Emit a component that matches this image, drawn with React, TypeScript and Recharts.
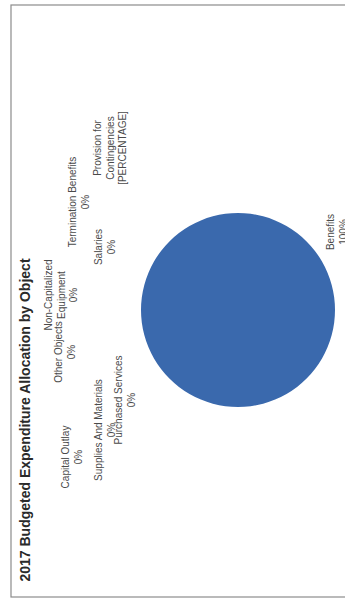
import React from "react";
import { PieChart, Pie, Cell } from "recharts";

// ---- data ----
const categories = [
  "Salaries",
  "Benefits",
  "Purchased Services",
  "Supplies And Materials",
  "Capital Outlay",
  "Other Objects",
  "Non-Capitalized Equipment",
  "Termination Benefits",
  "Provision for Contingencies",
];
const values = [0, 100, 0, 0, 0, 0, 0, 0, 0];
const valueLabels = ["0%", "100%", "0%", "0%", "0%", "0%", "0%", "0%", "[PERCENTAGE]"];
const titleText = "2017 Budgeted Expenditure Allocation by Object";

// ---- layout (chart frame before rotation) ----
const FRAME_W = 602;
const FRAME_H = 345;
const categoryLines: string[][] = [
  ["Salaries"],
  ["Benefits"],
  ["Purchased Services"],
  ["Supplies And Materials"],
  ["Capital Outlay"],
  ["Other Objects"],
  ["Non-Capitalized", "Equipment"],
  ["Termination Benefits"],
  ["Provision for", "Contingencies"],
];
const labelLayout = [
  { x: 355, y: 102 },
  { x: 370, y: 334 },
  { x: 202, y: 122 },
  { x: 172, y: 102 },
  { x: 145, y: 69 },
  { x: 250, y: 62 },
  { x: 307, y: 52 },
  { x: 400, y: 76 },
  { x: 454, y: 101 },
];
const LINE_H = 12.5;
const FONT = "'Liberation Sans', Arial, Helvetica, sans-serif";
const PIE_COLOR = "#3a69ad";

const data = categories.map((name, i) => ({ name, value: values[i], label: valueLabels[i] }));

export default function App() {
  return (
    <div
      style={{
        position: "absolute",
        left: 0,
        top: 0,
        width: 345,
        height: 602,
        overflow: "hidden",
        background: "#ffffff",
      }}
    >
      <div
        style={{
          position: "absolute",
          left: 0,
          top: 0,
          width: FRAME_W,
          height: FRAME_H,
          transformOrigin: "0 0",
          transform: `translate(0px, ${FRAME_W}px) rotate(-90deg)`,
        }}
      >
        <PieChart width={FRAME_W} height={FRAME_H} margin={{ top: 0, right: 0, bottom: 0, left: 0 }}>
          <Pie
            data={data}
            dataKey="value"
            nameKey="name"
            cx={292}
            cy={238}
            outerRadius={97}
            startAngle={90}
            endAngle={-270}
            stroke="none"
            isAnimationActive={false}
            labelLine={false}
          >
            {data.map((d) => (
              <Cell key={d.name} fill={PIE_COLOR} />
            ))}
          </Pie>
        </PieChart>
        <svg
          width={FRAME_W}
          height={FRAME_H}
          style={{ position: "absolute", left: 0, top: 0, pointerEvents: "none" }}
        >
          <rect x={5} y={11} width={592} height={400} fill="none" stroke="#8c8c8c" strokeWidth={1.2} />
          <text
            x={182}
            y={30}
            textAnchor="middle"
            fontFamily={FONT}
            fontWeight="bold"
            fontSize={14}
            fill="#2a2a2a"
          >
            {titleText}
          </text>
          {data.map((d, i) => {
            const lines = [...categoryLines[i], d.label];
            const pos = labelLayout[i];
            return (
              <text
                key={d.name}
                textAnchor="middle"
                fontFamily={FONT}
                fontSize={10}
                fill="#4a4a4a"
              >
                {lines.map((ln, j) => (
                  <tspan key={j} x={pos.x} y={pos.y + j * LINE_H}>
                    {ln}
                  </tspan>
                ))}
              </text>
            );
          })}
        </svg>
      </div>
    </div>
  );
}
